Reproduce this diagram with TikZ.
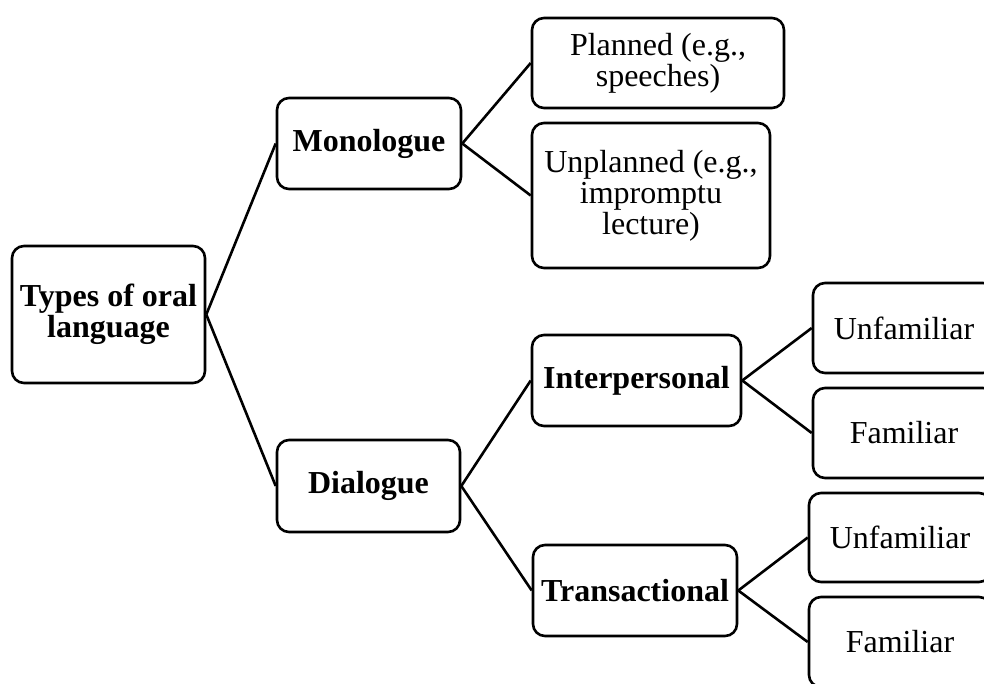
\documentclass[tikz,border=0pt]{standalone}
\usepackage{fontspec}
\setmainfont{Liberation Serif}
\begin{document}
\begin{tikzpicture}[
                x=1pt, y=-1pt,
                every node/.style={draw, rounded corners=12pt, line width=2.6pt, inner sep=0pt,
                        align=center, font=\fontsize{32}{31}\selectfont},
                topbox/.style={font=\fontsize{32}{31}\selectfont\bfseries},
                link/.style={line width=2.6pt}
            ]

            \useasboundingbox (0,0) rectangle (984,683);
            \clip (0,0) rectangle (984,683);

            % root and first level
            \node[topbox, minimum width=193pt, minimum height=137pt] (types) at (108.5,314.5) {Types of oral\\language};
            \node[topbox, minimum width=184pt, minimum height=91pt] (mono) at (369,143.5) {Monologue};
            \node[topbox, minimum width=183pt, minimum height=92pt] (dia) at (368.5,486) {Dialogue};

            % monologue branch
            \node[minimum width=252pt, minimum height=90pt] (planned) at (658,63) {Planned (e.g.,\\speeches)};
            \node[minimum width=238pt, minimum height=145pt] (unplanned) at (651,195.5) {Unplanned (e.g.,\\impromptu\\lecture)};

            % dialogue branch
            \node[topbox, minimum width=209pt, minimum height=91pt] (inter) at (636.5,380.5) {Interpersonal};
            \node[topbox, minimum width=204pt, minimum height=91pt] (trans) at (635,590.5) {Transactional};

            \node[minimum width=182pt, minimum height=90pt] (unfamA) at (904,328) {Unfamiliar};
            \node[minimum width=182pt, minimum height=90pt] (famA) at (904,433) {Familiar};
            \node[minimum width=182pt, minimum height=89pt] (unfamB) at (900,537.5) {Unfamiliar};
            \node[minimum width=182pt, minimum height=90pt] (famB) at (900,642) {Familiar};

            % connectors
            \draw[link] (types.east) -- (mono.west);
            \draw[link] (types.east) -- (dia.west);
            \draw[link] (mono.east) -- (planned.west);
            \draw[link] (mono.east) -- (unplanned.west);
            \draw[link] (dia.east) -- (inter.west);
            \draw[link] (dia.east) -- (trans.west);
            \draw[link] (inter.east) -- (unfamA.west);
            \draw[link] (inter.east) -- (famA.west);
            \draw[link] (trans.east) -- (unfamB.west);
            \draw[link] (trans.east) -- (famB.west);

        \end{tikzpicture}
\end{document}
